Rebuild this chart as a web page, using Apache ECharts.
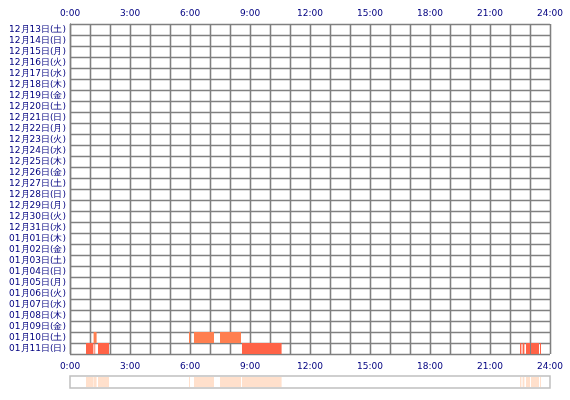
<!DOCTYPE html><html><head><meta charset="utf-8"><script src="https://cdn.jsdelivr.net/npm/echarts@6/dist/echarts.min.js"></script></head><body style="margin:0"><div id="c" style="width:570px;height:400px"></div><script>
const days=['12月13日(土)','12月14日(日)','12月15日(月)','12月16日(火)','12月17日(水)','12月18日(木)','12月19日(金)','12月20日(土)','12月21日(日)','12月22日(月)','12月23日(火)','12月24日(水)','12月25日(木)','12月26日(金)','12月27日(土)','12月28日(日)','12月29日(月)','12月30日(火)','12月31日(水)','01月01日(木)','01月02日(金)','01月03日(土)','01月04日(日)','01月05日(月)','01月06日(火)','01月07日(水)','01月08日(木)','01月09日(金)','01月10日(土)','01月11日(日)'];
const jan10Start=[1.18,5.95,6.2,7.5];
const jan10End=[1.33,6.0,7.2,8.55];
const jan11Start=[0.8,1.22,1.4,8.6,22.5,22.63,22.8,23.05,23.5];
const jan11End=[1.17,1.26,1.95,10.58,22.57,22.72,23.0,23.45,23.55];
const tickLabels=['0:00','3:00','6:00','9:00','12:00','15:00','18:00','21:00','24:00'];
const data=[];
jan10Start.forEach((s,i)=>data.push({value:[s,jan10End[i],28],itemStyle:{color:'#ff7f50'}}));
jan11Start.forEach((s,i)=>data.push({value:[s,jan11End[i],29],itemStyle:{color:'#ff6347'}}));
const ov=data.map(d=>({value:[d.value[0],d.value[1],0]}));
function rend(p,api){const a=api.coord([api.value(0),api.value(2)]),b=api.coord([api.value(1),api.value(2)]);const h=api.size([0,1])[1];return{type:'rect',shape:{x:a[0],y:a[1]-h/2,width:b[0]-a[0],height:h},style:api.style()};}
const lab={color:'#000080',fontSize:9,fontFamily:'DejaVu Sans',formatter:v=>v%3===0?tickLabels[v/3]:''};
const xa=(pos,g)=>({type:'value',gridIndex:g,position:pos,min:0,max:24,interval:1,axisLine:{show:false},axisTick:{show:false},axisLabel:g===0?{...lab,margin:6}:{show:false},splitLine:{show:g===0,lineStyle:{color:'#808080',width:1.3}}});
echarts.init(document.getElementById('c')).setOption({animation:false,
grid:[{left:70,right:20,top:24,height:330},{left:70,right:20,top:376,height:12,show:true,borderColor:'#c0c0c0',borderWidth:1.5}],
xAxis:[xa('top',0),{...xa('bottom',0),axisLabel:{...lab,margin:8}},xa('bottom',1)],
yAxis:[{type:'category',gridIndex:0,data:days,inverse:true,axisLine:{show:true,lineStyle:{color:'#808080',width:1.3}},axisTick:{show:false},axisLabel:{interval:0,color:'#000080',fontSize:9,fontFamily:'DejaVu Sans',margin:4},splitLine:{show:true,interval:0,lineStyle:{color:'#808080',width:1.3}}},
{type:'category',gridIndex:1,data:['a'],show:false}],
series:[{type:'custom',xAxisIndex:0,yAxisIndex:0,renderItem:rend,encode:{x:[0,1],y:2},data:data},
{type:'custom',xAxisIndex:2,yAxisIndex:1,renderItem:(p,api)=>{const a=api.coord([api.value(0),0]),b=api.coord([api.value(1),0]);return{type:'rect',shape:{x:a[0],y:377,width:b[0]-a[0],height:10},style:{fill:'#ffe0cc'}};},encode:{x:[0,1]},data:ov}]});
</script></body></html>
